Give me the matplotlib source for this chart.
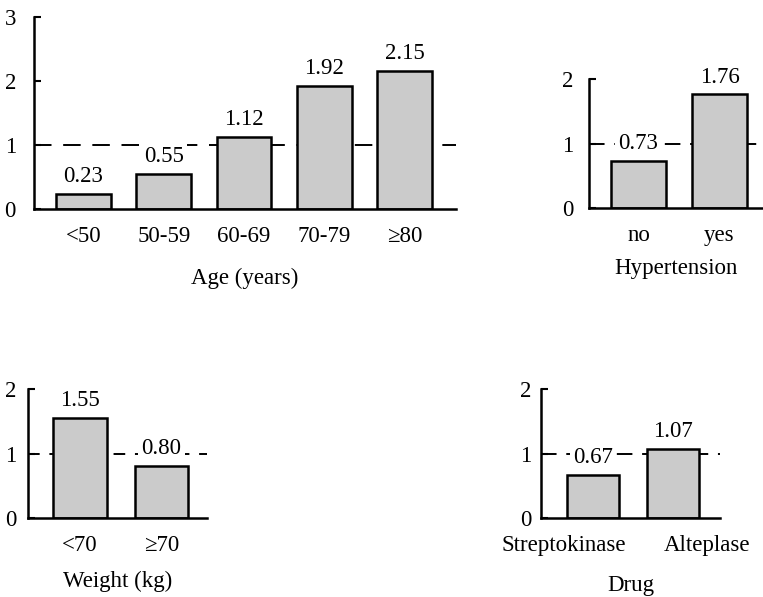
import matplotlib
matplotlib.use("Agg")
import matplotlib.pyplot as plt
from matplotlib.transforms import ScaledTranslation

plt.rcParams['font.family'] = ['Liberation Serif', 'DejaVu Serif']

age_cats = ['<50', '50-59', '60-69', '70-79', '≥80']
age_vals = [0.23, 0.55, 1.12, 1.92, 2.15]
htn_cats = ['no', 'yes']
htn_vals = [0.73, 1.76]
wt_cats = ['<70', '≥70']
wt_vals = [1.55, 0.80]
drug_cats = ['Streptokinase', 'Alteplase']
drug_vals = [0.67, 1.07]

W, H = 763, 597
fig = plt.figure(figsize=(W / 100, H / 100), dpi=100)

def px_axes(left, right, y0, ytop):
    return fig.add_axes([left / W, 1 - y0 / H, (right - left) / W, (y0 - ytop) / H])

FS = 16.5
BAR_COLOR = '#cbcbcb'

def panel(ax, cats, vals, xlim, width, ymax, xlabel, dash, ypad, xpad, lpad):
    xs = list(range(len(cats)))
    ax.axhline(1, color='black', lw=1.4, ls=(0, dash), zorder=1)
    ax.bar(xs, vals, width=width, color=BAR_COLOR, edgecolor='black', linewidth=1.8, zorder=2)
    for x, v in zip(xs, vals):
        ax.annotate(f'{v:.2f}', (x, v), xytext=(0, 5), textcoords='offset points',
                    ha='center', va='bottom', fontsize=FS, zorder=3,
                    bbox=dict(boxstyle='square,pad=0.15', fc='white', ec='none'))
    ax.set_xlim(*xlim)
    ax.set_ylim(0, ymax)
    ax.set_yticks(range(ymax + 1))
    ax.set_xticks(xs)
    ax.set_xticklabels(cats, fontsize=FS)
    ax.tick_params(axis='x', length=0, pad=xpad)
    ax.tick_params(axis='y', direction='in', length=5, width=1.5, pad=ypad, labelsize=FS)
    for s in ('top', 'right'):
        ax.spines[s].set_visible(False)
    for s in ('left', 'bottom'):
        ax.spines[s].set_linewidth(1.8)
    ax.set_xlabel(xlabel, fontsize=FS, labelpad=lpad)
    ax.patch.set_alpha(0)

ax1 = px_axes(34, 456, 209, 17)
panel(ax1, age_cats, age_vals, (-0.617, 4.642), 0.685, 3, 'Age (years)', (9, 6), 13, 12, 15)

ax2 = px_axes(589, 762, 208, 79)
panel(ax2, htn_cats, htn_vals, (-0.611, 1.525), 0.68, 2, 'Hypertension', (8, 5), 11, 12, 9)

ax3 = px_axes(28, 207, 518, 389)
panel(ax3, wt_cats, wt_vals, (-0.638, 1.558), 0.66, 2, 'Weight (kg)', (6, 5), 8.5, 12, 11)

ax4 = px_axes(541, 720, 518, 389)
panel(ax4, drug_cats, drug_vals, (-0.654, 1.597), 0.654, 2, 'Drug', (8, 5), 7, 12, 14)
shifts = [-29, 35]
for lab, dx in zip(ax4.get_xticklabels(), shifts):
    lab.set_transform(lab.get_transform() + ScaledTranslation(dx / 100, 0, fig.dpi_scale_trans))

fig.savefig('out.png', dpi=100)
